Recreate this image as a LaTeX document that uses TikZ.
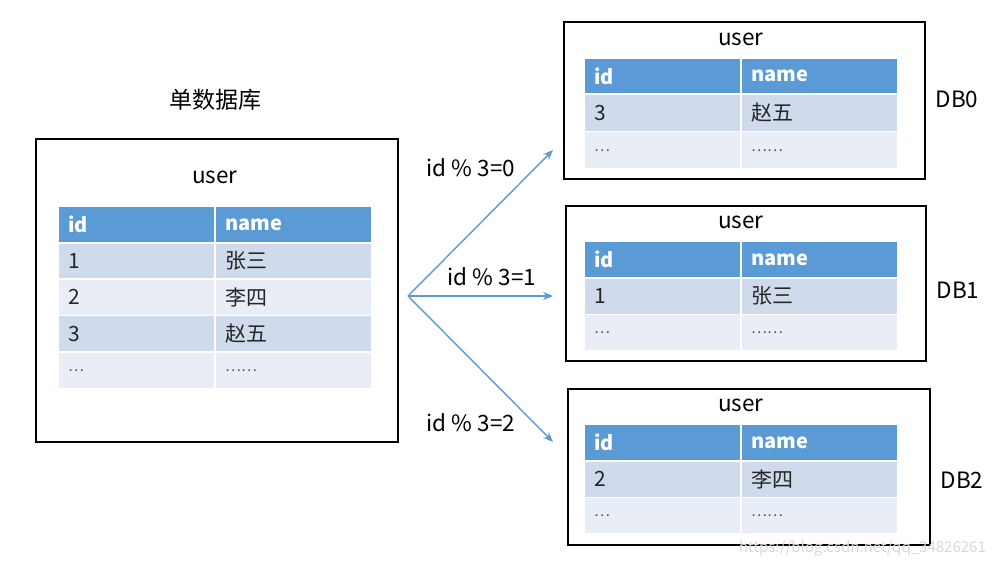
\documentclass[tikz,border=0pt]{standalone}
\usepackage{fontspec}
\setmainfont{Noto Sans CJK SC}
\usetikzlibrary{arrows.meta}
\definecolor{hdr}{HTML}{5B9BD5}
\definecolor{rowA}{HTML}{CFDAEC}
\definecolor{rowB}{HTML}{E8EDF6}
\definecolor{wm}{HTML}{D8D8D8}
\newcommand\tabrow[7]{%
  \node[cell, fill=#5, minimum height=#4] (#1a) at (#2,#3) {#6};
  \node[cell, fill=#5, minimum height=#4] (#1b) at (#2+157,#3) {#7};
}
\newcommand\mysdots{{\fontsize{15}{16}\selectfont\color{black!65}…}}
\newcommand\myldots{{\fontsize{15}{16}\selectfont\color{black!65}……}}
\begin{document}
\begin{tikzpicture}[x=1pt,y=-1pt,
  box/.style={draw=black, line width=1.5pt, anchor=north west, inner sep=0pt},
  cell/.style={anchor=north west, inner xsep=9pt, inner ysep=0pt, text width=137pt, minimum width=155pt, align=left, font=\fontsize{21}{22}\selectfont, text=black!85},
  hcell/.style={cell, fill=hdr, text=white, font=\fontsize{20}{22}\selectfont\bfseries},
  lbl/.style={font=\fontsize{22.5}{24}\selectfont, inner sep=0pt},
  arr/.style={draw=hdr, line width=1.4pt, -{Stealth[length=10pt,width=8pt]}}]
\useasboundingbox (0,0) rectangle (995,565);
\fill[white] (0,0) rectangle (995,565);

% source database
\node[lbl, font=\fontsize{23}{24}\selectfont] (title) at (215,100) {单数据库};
\node[box, minimum width=362pt, minimum height=303pt] (src) at (35,138) {};
\node[lbl] (srcuser) at (215,177) {user};
\node[hcell, minimum height=35pt] (sh1) at (59,207) {id};
\node[hcell, minimum height=35pt] (sh2) at (216,207) {name};
\tabrow{s1}{59}{243.5}{34.5pt}{rowA}{1}{张三}
\tabrow{s2}{59}{279.5}{35pt}{rowB}{2}{李四}
\tabrow{s3}{59}{316}{35pt}{rowA}{3}{赵五}
\tabrow{s4}{59}{352.5}{35pt}{rowB}{\mysdots}{\myldots}

% DB0
\node[box, minimum width=361pt, minimum height=157pt] (db0) at (563,21) {};
\node[lbl] (u0) at (741,39) {user};
\node[hcell, minimum height=34pt] (h0a) at (585,59) {id};
\node[hcell, minimum height=34pt] (h0b) at (742,59) {name};
\tabrow{r0a}{585}{94.5}{36pt}{rowA}{3}{赵五}
\tabrow{r0b}{585}{132}{36pt}{rowB}{\mysdots}{\myldots}
\node[lbl] (n0) at (957,99) {DB0};

% DB1
\node[box, minimum width=360pt, minimum height=155pt] (db1) at (565,205) {};
\node[lbl] (u1) at (741,222) {user};
\node[hcell, minimum height=35pt] (h1a) at (585,242) {id};
\node[hcell, minimum height=35pt] (h1b) at (742,242) {name};
\tabrow{r1a}{585}{278.5}{35pt}{rowA}{1}{张三}
\tabrow{r1b}{585}{315}{35pt}{rowB}{\mysdots}{\myldots}
\node[lbl] (n1) at (958,290) {DB1};

% DB2
\node[box, minimum width=362pt, minimum height=156pt] (db2) at (567,388) {};
\node[lbl] (u2) at (741,405) {user};
\node[hcell, minimum height=35pt] (h2a) at (585,425) {id};
\node[hcell, minimum height=35pt] (h2b) at (742,425) {name};
\tabrow{r2a}{585}{461.5}{35pt}{rowA}{2}{李四}
\tabrow{r2b}{585}{498}{35pt}{rowB}{\mysdots}{\myldots}
\node[lbl] (n2) at (962,480) {DB2};

% arrows
\coordinate (o) at (408,296);
\coordinate (e0) at (553,150);
\coordinate (e1) at (553,296);
\coordinate (e2) at (553,442);
\draw[arr] (o) -- (e0);
\draw[arr] (o) -- (e1);
\draw[arr] (o) -- (e2);
\node[lbl] (c0) at (471,168) {id \% 3=0};
\node[lbl] (c1) at (492,277) {id \% 3=1};
\node[lbl] (c2) at (471,423) {id \% 3=2};

% watermark
\node[font=\fontsize{15}{16}\selectfont, text=wm, anchor=east, inner sep=0pt] (wmk) at (986,548) {https://blog.csdn.net/qq\_34826261};
\end{tikzpicture}
\end{document}
